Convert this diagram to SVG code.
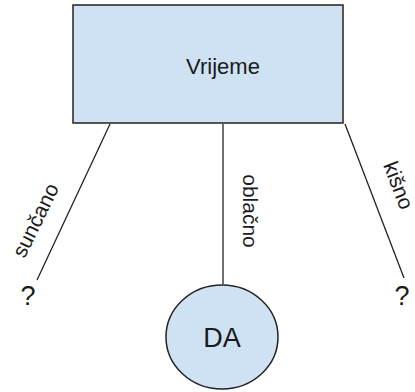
<svg xmlns="http://www.w3.org/2000/svg" width="415" height="392" viewBox="0 0 415 392">
<style>
.shape{fill:#cfe2f3;stroke:#222;stroke-width:1.5}
.edge{stroke:#222;stroke-width:1.3;fill:none}
text{font-family:"Liberation Sans",Arial,sans-serif;fill:#1a1a1a}
.lbl{font-size:21px}
.q{font-size:27px}
</style>
<rect width="415" height="392" fill="#fff"/>
<g id="connectors">
<line class="edge" x1="110" y1="124" x2="37" y2="280"/>
<line class="edge" x1="223" y1="124" x2="223" y2="284"/>
<line class="edge" x1="345" y1="124" x2="404" y2="278"/>
<text class="lbl" transform="translate(37,221) rotate(-64)" text-anchor="middle" dominant-baseline="middle">sunčano</text>
<text class="lbl" transform="translate(249,211) rotate(90)" text-anchor="middle" dominant-baseline="middle">oblačno</text>
<text class="lbl" transform="translate(397,186) rotate(69)" text-anchor="middle" dominant-baseline="middle">kišno</text>
</g>
<g id="vrijeme">
<rect class="shape" x="73" y="5" width="270" height="118"/>
<text x="223" y="74" text-anchor="middle" font-size="22">Vrijeme</text>
</g>
<g id="q1"><text class="q" x="28" y="305" text-anchor="middle">?</text></g>
<g id="q2"><text class="q" x="402" y="305" text-anchor="middle">?</text></g>
<g id="da">
<ellipse class="shape" cx="222" cy="337" rx="56" ry="52"/>
<text x="222" y="347" text-anchor="middle" font-size="27">DA</text>
</g>
</svg>
